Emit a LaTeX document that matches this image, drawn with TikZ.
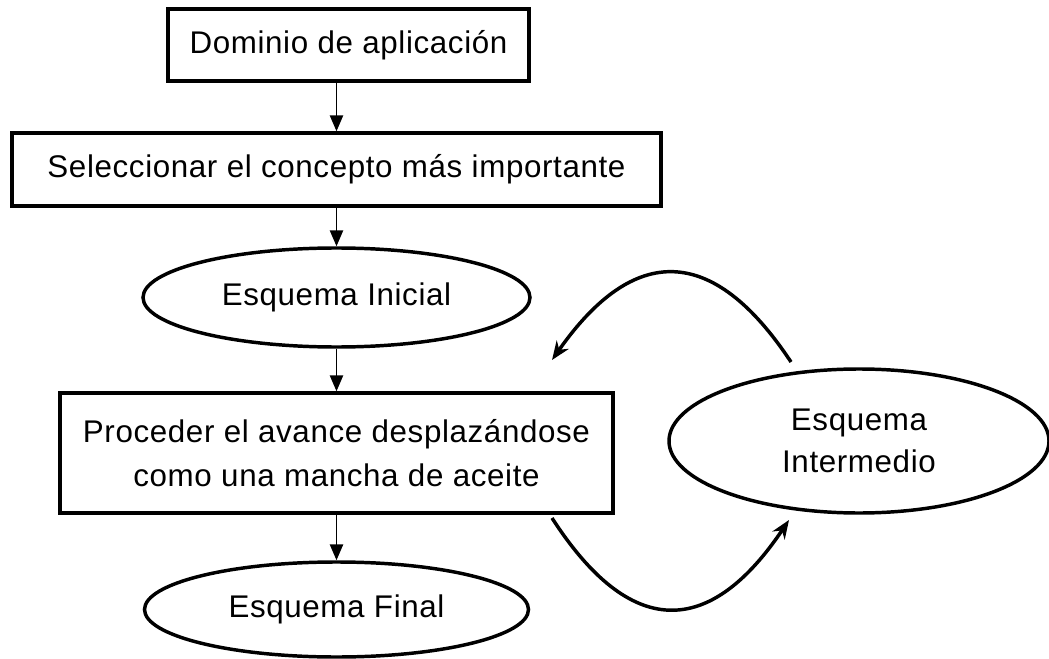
\documentclass[tikz,border=0pt]{standalone}
\usepackage{fontspec}
\setmainfont{Liberation Sans}[LetterSpace=2]
\usetikzlibrary{shapes.geometric, arrows.meta}
\tikzstyle{block} = [rectangle, draw=black, line width=2.6pt, inner sep=0pt, align=center, font=\fontsize{23.5}{33}\selectfont]
\tikzstyle{scheme} = [ellipse, draw=black, line width=2.6pt, inner sep=0pt, align=center, font=\fontsize{23.5}{31.5}\selectfont]
\tikzstyle{arrow} = [line width=1.2pt, -{Triangle[length=12pt,width=10pt]}]
\tikzstyle{bigarrow} = [line width=2.6pt, -{Stealth[length=14pt,width=11pt]}]

\begin{document}
\begin{tikzpicture}[x=0.75pt, y=-0.75pt]
\useasboundingbox (0,0) rectangle (1049,659);

\node (dominio) [block, minimum width=270.75pt, minimum height=54pt] at (348.5,45) {Dominio de aplicación};
\node (seleccionar) [block, minimum width=486.75pt, minimum height=54.75pt] at (336.5,169.5) {Seleccionar el concepto más importante};
\node (inicial) [scheme, minimum width=290.25pt, minimum height=74.25pt] at (336.5,297.5) {Esquema Inicial};
\node (proceder) [block, minimum width=414.75pt, minimum height=90pt] at (336.5,453) {Proceder el avance desplazándose\\como una mancha de aceite};
\node (final) [scheme, minimum width=288pt, minimum height=71.25pt] at (336.5,609.5) {Esquema Final};
\node (intermedio) [scheme, minimum width=285pt, minimum height=108pt] at (859,441) {Esquema\\Intermedio};

% free ends of the loop
\coordinate (outtop) at (791,362);
\coordinate (intop) at (552,360);
\coordinate (outbot) at (552,518);
\coordinate (inbot) at (789,520);

\draw [arrow] (seleccionar.north |- dominio.south) -- (seleccionar.north);
\draw [arrow] (seleccionar) -- (inicial);
\draw [arrow] (inicial) -- (proceder);
\draw [arrow] (proceder) -- (final);

\draw [bigarrow] (outtop) .. controls (713,244) and (634,243) .. (intop);
\draw [bigarrow] (outbot) .. controls (630,639) and (709,639) .. (inbot);

\end{tikzpicture}
\end{document}
